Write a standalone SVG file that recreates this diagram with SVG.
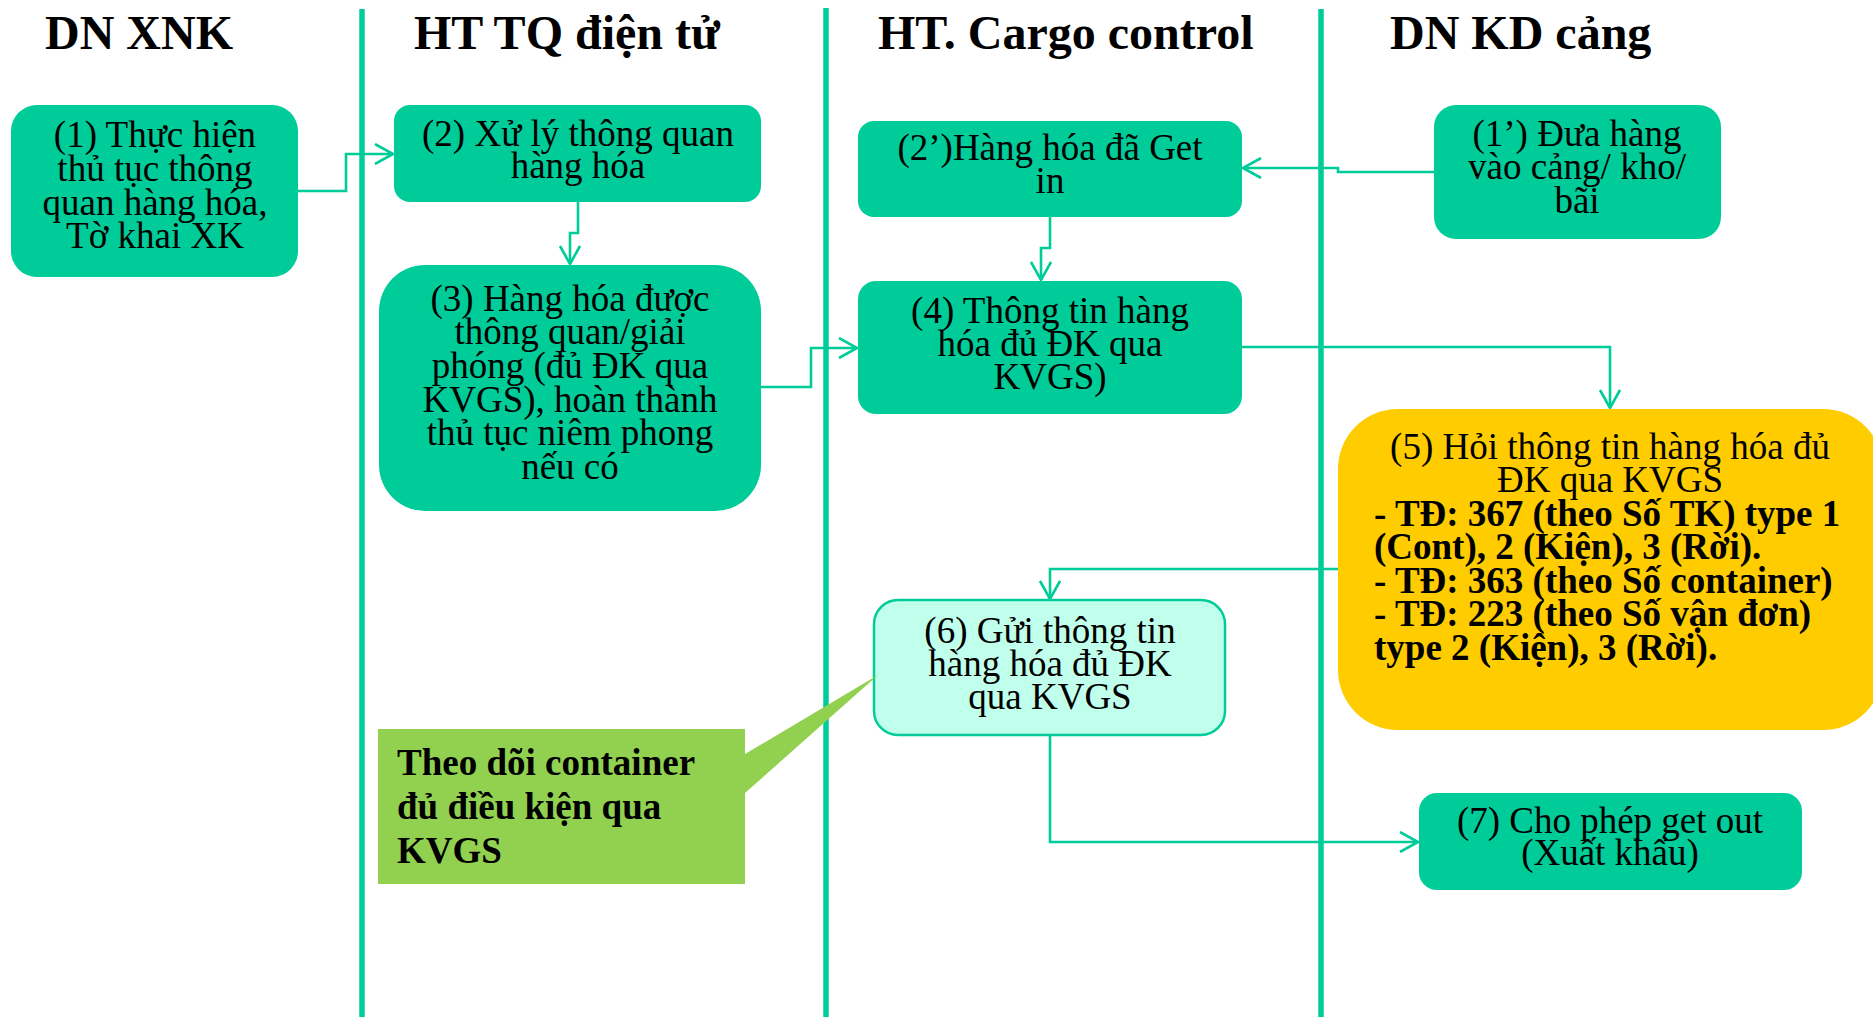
<svg xmlns="http://www.w3.org/2000/svg" width="1873" height="1017" viewBox="0 0 1873 1017">
<defs>
<style>
.lane{stroke:#00CC99;stroke-width:5.5;fill:none}
.hdr{font-family:"Liberation Serif","Times New Roman",serif;font-weight:bold;font-size:48px;fill:#000}
.box{fill:#00CC99}
.t{font-family:"Liberation Serif","Times New Roman",serif;font-size:37px;fill:#000;text-anchor:middle}
.tb{font-family:"Liberation Serif","Times New Roman",serif;font-size:37px;font-weight:bold;fill:#000}
.conn{stroke:#00CC99;stroke-width:2.6;fill:none;marker-end:url(#arr)}
</style>
<marker id="arr" viewBox="0 0 20 22" refX="19" refY="11" markerWidth="20" markerHeight="22" markerUnits="userSpaceOnUse" orient="auto">
<path d="M1,1 L19,11 L1,21" fill="none" stroke="#00CC99" stroke-width="2.6"/>
</marker>
</defs>
<rect width="1873" height="1017" fill="#fff"/>
<g id="lanes">
<line class="lane" x1="362" y1="9" x2="362" y2="1017"/>
<line class="lane" x1="826" y1="8" x2="826" y2="1017"/>
<line class="lane" x1="1321" y1="9" x2="1321" y2="1017"/>
<text class="hdr" x="45" y="49">DN XNK</text>
<text class="hdr" x="414" y="49">HT TQ điện tử</text>
<text class="hdr" x="878" y="49">HT. Cargo control</text>
<text class="hdr" x="1390" y="49">DN KD cảng</text>
</g>
<g id="connectors">
<path class="conn" d="M298,191 H346 V154 H393"/>
<path class="conn" d="M578,202 V233 H570 V264"/>
<path class="conn" d="M761,387 H811 V348 H857"/>
<path class="conn" d="M1434,172 H1338 V168 H1243"/>
<path class="conn" d="M1050,217 V248 H1041 V280"/>
<path class="conn" d="M1242,347 H1610 V408"/>
<path class="conn" d="M1338,569 H1050 V599"/>
<path class="conn" d="M1050,735 V842 H1418"/>
</g>
<g id="n1">
<rect class="box" x="11" y="105" width="287" height="172" rx="26"/>
<text class="t" x="155" y="147">(1) Thực hiện</text>
<text class="t" x="155" y="181">thủ tục thông</text>
<text class="t" x="155" y="215">quan hàng hóa,</text>
<text class="t" x="155" y="248">Tờ khai XK</text>
</g>
<g id="n2">
<rect class="box" x="394" y="105" width="367" height="97" rx="16"/>
<text class="t" x="578" y="146">(2) Xử lý thông quan</text>
<text class="t" x="578" y="178">hàng hóa</text>
</g>
<g id="n3">
<rect class="box" x="379" y="265" width="382" height="246" rx="46"/>
<text class="t" x="570" y="311">(3) Hàng hóa được</text>
<text class="t" x="570" y="344">thông quan/giải</text>
<text class="t" x="570" y="378">phóng (đủ ĐK qua</text>
<text class="t" x="570" y="412">KVGS), hoàn thành</text>
<text class="t" x="570" y="445">thủ tục niêm phong</text>
<text class="t" x="570" y="479">nếu có</text>
</g>
<g id="n2p">
<rect class="box" x="858" y="121" width="384" height="96" rx="16"/>
<text class="t" x="1050" y="160">(2’)Hàng hóa đã Get</text>
<text class="t" x="1050" y="193">in</text>
</g>
<g id="n1p">
<rect class="box" x="1434" y="105" width="287" height="134" rx="22"/>
<text class="t" x="1577" y="146">(1’) Đưa hàng</text>
<text class="t" x="1577" y="179">vào cảng/ kho/</text>
<text class="t" x="1577" y="213">bãi</text>
</g>
<g id="n4">
<rect class="box" x="858" y="281" width="384" height="133" rx="18"/>
<text class="t" x="1050" y="323">(4) Thông tin hàng</text>
<text class="t" x="1050" y="356">hóa đủ ĐK qua</text>
<text class="t" x="1050" y="389">KVGS)</text>
</g>
<g id="n5">
<rect x="1338" y="409" width="545" height="321" rx="60" fill="#FFCC00"/>
<text class="t" x="1610" y="459">(5) Hỏi thông tin hàng hóa đủ</text>
<text class="t" x="1610" y="492">ĐK qua KVGS</text>
<text class="tb" x="1374" y="526">- TĐ: 367 (theo Số TK) type 1</text>
<text class="tb" x="1374" y="559">(Cont), 2 (Kiện), 3 (Rời).</text>
<text class="tb" x="1374" y="593">- TĐ: 363 (theo Số container)</text>
<text class="tb" x="1374" y="626">- TĐ: 223 (theo Số vận đơn)</text>
<text class="tb" x="1374" y="660">type 2 (Kiện), 3 (Rời).</text>
</g>
<g id="n6">
<rect x="874" y="600" width="351" height="135" rx="24" fill="#C0FFEC" stroke="#00CC99" stroke-width="2.5"/>
<text class="t" x="1050" y="643">(6) Gửi thông tin</text>
<text class="t" x="1050" y="676">hàng hóa đủ ĐK</text>
<text class="t" x="1050" y="709">qua KVGS</text>
</g>
<g id="n7">
<rect class="box" x="1419" y="793" width="383" height="97" rx="18"/>
<text class="t" x="1610" y="833">(7) Cho phép get out</text>
<text class="t" x="1610" y="865">(Xuất khẩu)</text>
</g>
<g id="callout">
<polygon points="378,729 745,729 745,754 878,675 745,793 745,884 378,884" fill="#92D050"/>
<text class="tb" x="397" y="775">Theo dõi container</text>
<text class="tb" x="397" y="819">đủ điều kiện qua</text>
<text class="tb" x="397" y="863">KVGS</text>
</g>
</svg>
